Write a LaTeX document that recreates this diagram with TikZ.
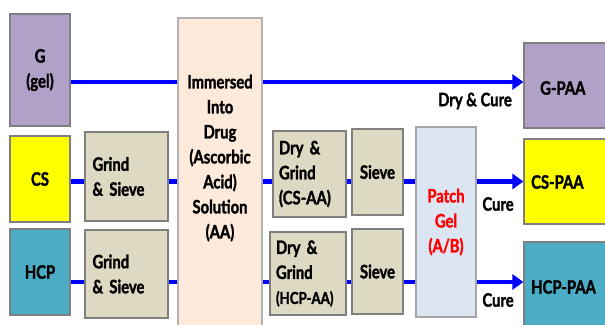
\documentclass[tikz,border=0pt]{standalone}
\usepackage{fontspec}
\setmainfont{Lato}[FakeStretch=0.8,BoldFeatures={FakeBold=1.6}]
\usepackage{tikz}
\usetikzlibrary{arrows.meta,positioning}
\definecolor{gelc}{HTML}{B1A0C7}
\definecolor{csc}{HTML}{FFFF00}
\definecolor{hcpc}{HTML}{4BACC6}
\definecolor{tanc}{HTML}{DDD9C3}
\definecolor{peachc}{HTML}{FDEADA}
\definecolor{patchc}{HTML}{DCE6F2}
\definecolor{edgec}{HTML}{7F7F7F}
\definecolor{linec}{HTML}{0000FF}
\definecolor{redc}{HTML}{FF0000}
\tikzset{
  bx/.style={draw=edgec,line width=1.2pt,inner sep=0pt,align=center,font=\bfseries\fontsize{18.5}{25}\selectfont},
  tx/.style={inner sep=0pt,align=center,font=\bfseries\fontsize{18.5}{25}\selectfont},
  ln/.style={draw=linec,line width=4.5pt},
  ar/.style={ln,-{Triangle[length=11pt,width=15pt]}}
}

\begin{document}
\begin{tikzpicture}[x=1pt,y=-1pt]
\useasboundingbox (0,0) rectangle (605,324);
% sources
\node[bx,fill=gelc,minimum width=60pt,minimum height=112pt] (g) at (40,70) {G\\(gel)};
\node[bx,fill=csc,minimum width=60pt,minimum height=86pt] (cs) at (40,179) {CS};
\node[bx,fill=hcpc,minimum width=60pt,minimum height=86pt] (hcp) at (40,272) {HCP};
\node[bx,fill=tanc,minimum width=83pt,minimum height=89pt,text width=68pt,align=left] (gscs) at (126.5,176.5) {Grind\\\& Sieve};
\node[bx,fill=tanc,minimum width=83pt,minimum height=88pt,text width=68pt,align=left] (gshcp) at (126.5,274) {Grind\\\& Sieve};
% drug bath
\node[bx,fill=peachc,draw=edgec!60,minimum width=84pt,minimum height=312pt] (imm) at (220,174) {};
\node[tx] (immtxt) at (220,158) {Immersed\\Into\\Drug\\(Ascorbic\\Acid)\\Solution\\(AA)};
% after drug
\node[bx,fill=tanc,minimum width=73pt,minimum height=86pt,text width=61pt,align=left] (dgcs) at (309.5,174) {Dry \&\\Grind\\(CS-AA)};
\node[bx,fill=tanc,minimum width=76pt,minimum height=83pt,text width=64pt,align=left] (dghcp) at (308,273.5) {Dry \&\\Grind\\{\fontsize{16.5}{25}\selectfont(HCP-AA)}};
\node[bx,fill=tanc,minimum width=51pt,minimum height=86pt] (svcs) at (377.5,172) {Sieve};
\node[bx,fill=tanc,minimum width=51pt,minimum height=85pt] (svhcp) at (377.5,271.5) {Sieve};
\node[bx,fill=patchc,draw=edgec!70,minimum width=60pt,minimum height=190pt,text=redc] (patch) at (446,222) {Patch\\Gel\\(A/B)};
% products
\node[bx,fill=gelc,minimum width=96pt,minimum height=85pt] (gpaa) at (572,85.5) {};
\node[bx,fill=csc,minimum width=96pt,minimum height=85pt] (cspaa) at (572,181.5) {};
\node[bx,fill=hcpc,minimum width=96pt,minimum height=90pt] (hcppaa) at (572,287) {};
\node[tx,anchor=west] (gpaatxt) at (540,88) {G-PAA};
\node[tx,anchor=west] (cspaatxt) at (531,182) {CS-PAA};
\node[tx,anchor=west] (hcppaatxt) at (531,287) {HCP-PAA};
% rows
\coordinate (rowg) at (0,82);
\coordinate (rowcs) at (0,181.5);
\coordinate (rowhcp) at (0,282);
\draw[ln] (g.east |- rowg) -- (imm.west |- rowg);
\draw[ar] (imm.east |- rowg) -- (gpaa.west |- rowg);
\draw[ln] (cs.east |- rowcs) -- (gscs.west |- rowcs);
\draw[ln] (gscs.east |- rowcs) -- (imm.west |- rowcs);
\draw[ln] (imm.east |- rowcs) -- (dgcs.west |- rowcs);
\draw[ln] (dgcs.east |- rowcs) -- (svcs.west |- rowcs);
\draw[ln] (svcs.east |- rowcs) -- (patch.west |- rowcs);
\draw[ar] (patch.east |- rowcs) -- (cspaa.west |- rowcs);
\draw[ln] (hcp.east |- rowhcp) -- (gshcp.west |- rowhcp);
\draw[ln] (gshcp.east |- rowhcp) -- (imm.west |- rowhcp);
\draw[ln] (imm.east |- rowhcp) -- (dghcp.west |- rowhcp);
\draw[ln] (dghcp.east |- rowhcp) -- (svhcp.west |- rowhcp);
\draw[ln] (svhcp.east |- rowhcp) -- (patch.west |- rowhcp);
\draw[ar] (patch.east |- rowhcp) -- (hcppaa.west |- rowhcp);
% labels
\node[tx,anchor=east] (drycure) at (512,101) {Dry \& Cure};
\node[tx] (curecs) at (498,204) {Cure};
\node[tx] (curehcp) at (498,300) {Cure};
\end{tikzpicture}
\end{document}
